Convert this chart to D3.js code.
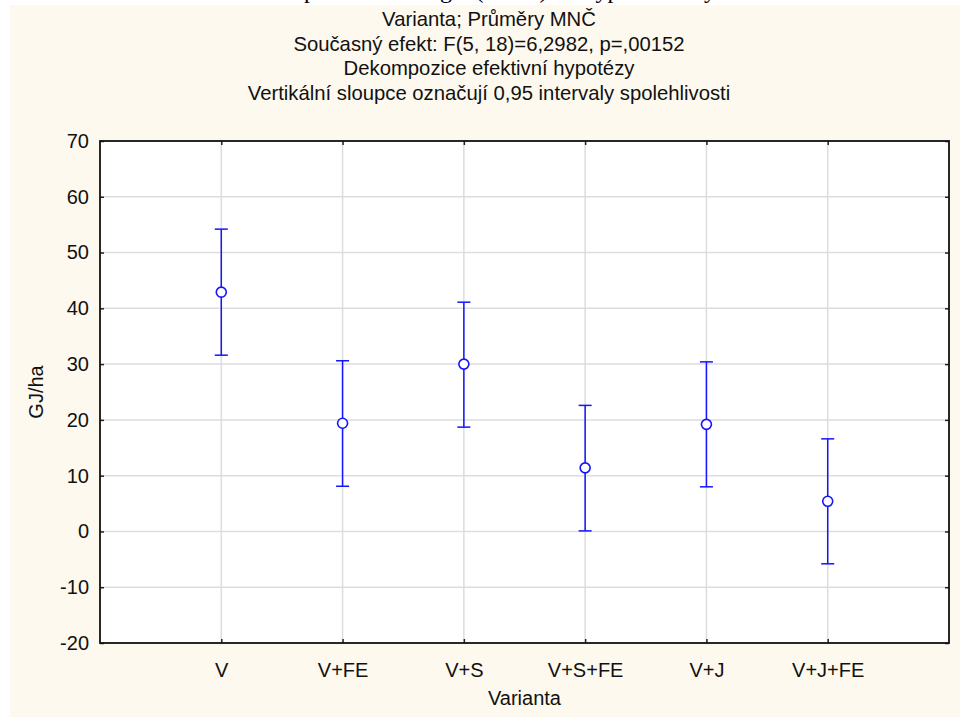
<!DOCTYPE html>
<html><head><meta charset="utf-8">
<script src="https://cdn.jsdelivr.net/npm/d3@7"></script>
<style>html,body{margin:0;padding:0;background:#fff;}svg{display:block;}</style>
</head><body>
<script>
const categories = ["V", "V+FE", "V+S", "V+S+FE", "V+J", "V+J+FE"];
const means = [42.9, 19.4, 30.0, 11.4, 19.2, 5.4];
const lower = [31.6, 8.1, 18.7, 0.1, 8.0, -5.8];
const upper = [54.2, 30.6, 41.1, 22.6, 30.4, 16.6];
const yTicks = [-20, -10, 0, 10, 20, 30, 40, 50, 60, 70];
const titleLines = [
  "Varianta; Průměry MNČ",
  "Současný efekt: F(5, 18)=6,2982, p=,00152",
  "Dekompozice efektivní hypotézy",
  "Vertikální sloupce označují 0,95 intervaly spolehlivosti"
];
const caption = "produkce energie (GJ/ha) dle typu varianty";
const xLabel = "Varianta", yLabel = "GJ/ha";

const W = 960, H = 717;
const m = {left: 100, right: 11, top: 141, bottom: 74};
const font = "Arial, 'Liberation Sans', sans-serif";
const svg = d3.select("body").append("svg").attr("width", W).attr("height", H);

svg.append("rect").attr("x", 10).attr("y", 5).attr("width", W - 10).attr("height", H - 5).attr("fill", "#fdf9ee");
svg.append("text").attr("x", 510).attr("y", -2).attr("text-anchor", "middle")
  .attr("font-family", "'Liberation Serif', 'Times New Roman', serif").attr("font-size", 24).attr("fill", "#000").text(caption);

const x = d3.scalePoint().domain(["", ...categories, " "]).range([m.left, W - m.right]);
const y = d3.scaleLinear().domain([-20, 70]).range([H - m.bottom, m.top]);

const g = svg.append("g");
g.append("rect").attr("x", m.left).attr("y", m.top).attr("width", W - m.right - m.left).attr("height", H - m.bottom - m.top).attr("fill", "#fff");

// grid
g.selectAll(".hg").data(yTicks.slice(1, -1)).join("line")
  .attr("x1", m.left).attr("x2", W - m.right).attr("y1", d => y(d)).attr("y2", d => y(d))
  .attr("stroke", "#dddddd").attr("stroke-width", 1.5);
g.selectAll(".vg").data(categories).join("line")
  .attr("x1", d => x(d)).attr("x2", d => x(d)).attr("y1", m.top).attr("y2", H - m.bottom)
  .attr("stroke", "#dddddd").attr("stroke-width", 1.5);

// axes
const yAxis = d3.axisLeft(y).tickValues(yTicks).tickSize(-4).tickPadding(11).tickFormat(d => String(d));
const yAxisR = d3.axisRight(y).tickValues(yTicks).tickSize(-4).tickFormat("");
const xAxis = d3.axisBottom(x).tickValues(categories).tickSize(-4).tickPadding(20);
const xAxisT = d3.axisTop(x).tickValues(categories).tickSize(-4).tickFormat("");

function style(sel) {
  sel.select(".domain").remove();
  sel.selectAll(".tick line").attr("stroke", "#222").attr("stroke-width", 1.5);
  sel.selectAll("text").attr("font-family", font).attr("font-size", 20).attr("fill", "#111");
}
g.append("g").attr("transform", `translate(${m.left},0)`).call(yAxis).call(style);
g.append("g").attr("transform", `translate(${W - m.right},0)`).call(yAxisR).call(style);
g.append("g").attr("transform", `translate(0,${H - m.bottom})`).call(xAxis).call(style);
g.append("g").attr("transform", `translate(0,${m.top})`).call(xAxisT).call(style);

g.append("rect").attr("x", m.left).attr("y", m.top).attr("width", W - m.right - m.left).attr("height", H - m.bottom - m.top)
  .attr("fill", "none").attr("stroke", "#111").attr("stroke-width", 1.8);

// error bars
const blue = "#1414ff";
const data = categories.map((c, i) => ({c, m: means[i], lo: lower[i], hi: upper[i]}));
const eb = g.selectAll(".eb").data(data).join("g");
eb.append("line").attr("x1", d => x(d.c)).attr("x2", d => x(d.c)).attr("y1", d => y(d.hi)).attr("y2", d => y(d.lo))
  .attr("stroke", blue).attr("stroke-width", 1.5);
eb.append("line").attr("x1", d => x(d.c) - 6.5).attr("x2", d => x(d.c) + 6.5).attr("y1", d => y(d.hi)).attr("y2", d => y(d.hi))
  .attr("stroke", blue).attr("stroke-width", 1.5);
eb.append("line").attr("x1", d => x(d.c) - 6.5).attr("x2", d => x(d.c) + 6.5).attr("y1", d => y(d.lo)).attr("y2", d => y(d.lo))
  .attr("stroke", blue).attr("stroke-width", 1.5);
eb.append("circle").attr("cx", d => x(d.c)).attr("cy", d => y(d.m)).attr("r", 5)
  .attr("fill", "#fff").attr("stroke", blue).attr("stroke-width", 1.6);

// titles
svg.selectAll(".title").data(titleLines).join("text")
  .attr("x", 489).attr("y", (d, i) => 26 + i * 24.7).attr("text-anchor", "middle")
  .attr("font-family", font).attr("font-size", 20.3).attr("fill", "#111").text(d => d);

svg.append("text").attr("x", (m.left + W - m.right) / 2).attr("y", 705).attr("text-anchor", "middle")
  .attr("font-family", font).attr("font-size", 20).attr("fill", "#111").text(xLabel);
svg.append("text").attr("transform", `translate(43,${(m.top + H - m.bottom) / 2}) rotate(-90)`).attr("text-anchor", "middle")
  .attr("font-family", font).attr("font-size", 20).attr("fill", "#111").text(yLabel);
</script>
</body></html>
